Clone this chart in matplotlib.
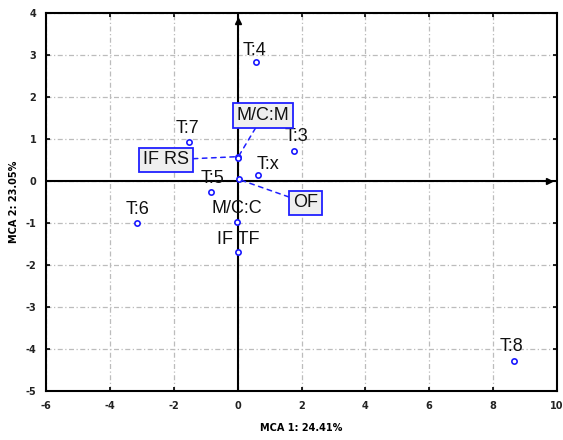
import matplotlib
matplotlib.use("Agg")
import matplotlib.pyplot as plt

plt.rcParams["axes.unicode_minus"] = False

# ---- data ----
labels = ["T:4", "T:7", "T:3", "IF RS", "M/C:M", "T:x", "OF", "T:5", "T:6", "M/C:C", "IF TF", "T:8"]
mca1 = [0.56, -1.53, 1.77, 0.01, 0.0, 0.64, 0.03, -0.82, -3.14, -0.03, 0.02, 8.64]
mca2 = [2.83, 0.94, 0.72, 0.58, 0.55, 0.14, 0.04, -0.27, -1.01, -0.98, -1.68, -4.29]
boxed = ["IF RS", "M/C:M", "OF"]
xticks = [-6, -4, -2, 0, 2, 4, 6, 8, 10]
yticks = [-5, -4, -3, -2, -1, 0, 1, 2, 3, 4]
xlabel = "MCA 1: 24.41%"
ylabel = "MCA 2: 23.05%"

# label offsets in pixels (dx right, dy up)
offsets_px = {
    "T:4": (-1.5, 12), "T:7": (-1.5, 12.7), "T:3": (2, 14.7), "T:x": (9.7, 10.5),
    "T:5": (1, 13.8), "T:6": (0, 13.8), "M/C:C": (0, 13.8), "IF TF": (0, 12.2),
    "T:8": (-1.7, 14.5), "IF RS": (-72, -3.3), "M/C:M": (25.5, 42.5), "OF": (67, -23.5),
}

DPI = 100
fig = plt.figure(figsize=(5.63, 4.40), dpi=DPI)
ax = fig.add_axes([46/563, 1-391/440, (557-46)/563, (391-13)/440])
ax.set_xlim(-6, 10)
ax.set_ylim(-5, 4)

grid_ls = (0, (4, 2, 1, 2))
ax.set_xticks(xticks)
ax.set_yticks(yticks)
ax.grid(True, color="#bcbcbc", linestyle=grid_ls, linewidth=0.9)
ax.set_axisbelow(True)

for s in ax.spines.values():
    s.set_linewidth(1.5)
    s.set_color("black")
ax.tick_params(direction="in", length=3, width=1.2, top=True, right=True,
               labelsize=7, pad=7, colors="black")
for t in ax.get_xticklabels() + ax.get_yticklabels():
    t.set_fontweight("bold")
    t.set_color("#222222")

# zero axes with arrowheads
ax.axhline(0, color="black", lw=1.5, zorder=2)
ax.axvline(0, color="black", lw=1.5, zorder=2)
ax.plot([0], [3.8], marker="^", color="black", ms=5, zorder=3)
ax.plot([9.75], [0], marker=">", color="black", ms=5, zorder=3)

ax.plot(mca1, mca2, linestyle="none", marker="o", ms=3.8, mfc="white",
        mec="#1a1aff", mew=1.2, zorder=5)

pt = 72.0 / DPI
for lab, x, y in zip(labels, mca1, mca2):
    dx, dy = offsets_px[lab]
    if lab in boxed:
        ax.annotate(lab, xy=(x, y), xytext=(dx * pt, dy * pt), textcoords="offset points",
                    ha="center", va="center", fontsize=13, family="Liberation Sans",
                    color="#111111",
                    bbox=dict(boxstyle="square,pad=0.2", fc="#efefef", ec="#2020ff", lw=1.3),
                    arrowprops=dict(arrowstyle="-", color="#2020ff", lw=1.1,
                                    linestyle=(0, (3, 3)), shrinkA=0, shrinkB=2),
                    zorder=6)
    else:
        ax.annotate(lab, xy=(x, y), xytext=(dx * pt, dy * pt), textcoords="offset points",
                    ha="center", va="center", fontsize=13, family="Liberation Sans",
                    color="#111111", zorder=6)

ax.set_xlabel(xlabel, fontsize=7, fontweight="bold")
ax.set_ylabel(ylabel, fontsize=7, fontweight="bold")
ax.xaxis.set_label_coords(0.5, (391 - 423) / 378)
ax.yaxis.set_label_coords((19 - 46) / 511, 0.5)

fig.savefig("out.png", dpi=DPI)
